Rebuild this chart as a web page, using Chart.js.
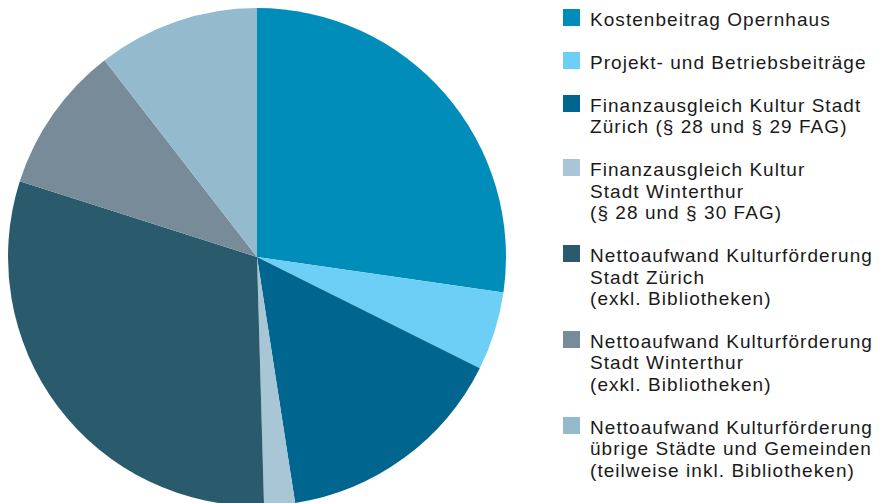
<!DOCTYPE html>
<html>
<head>
<meta charset="utf-8">
<script src="https://cdn.jsdelivr.net/npm/chart.js@4"></script>
<style>
  html, body { margin: 0; padding: 0; background: #fff; overflow: hidden; }
  body { width: 883px; height: 503px; position: relative; font-family: "Liberation Sans", Arial, sans-serif; }
  #pieWrap { position: absolute; left: 0; top: 0; width: 514px; height: 514px; }
  #legend { position: absolute; left: 563px; top: 9px; margin: 0; padding: 0; list-style: none; }
  #legend li { position: relative; padding-left: 27px; margin-bottom: 21.6px; font-size: 19px; line-height: 21.4px; letter-spacing: 1.05px; color: #1a1a1a; white-space: nowrap; }
  #legend li span.box { position: absolute; left: 0; top: 0; width: 17px; height: 17px; }
  #legend li div { position: relative; top: 0; }
</style>
</head>
<body>
<div id="pieWrap"><canvas id="pieChart"></canvas></div>
<ul id="legend"></ul>
<script>
const categories = [
    ['Kostenbeitrag Opernhaus'],
    ['Projekt- und Betriebsbeiträge'],
    ['Finanzausgleich Kultur Stadt', 'Zürich (§ 28 und § 29 FAG)'],
    ['Finanzausgleich Kultur', 'Stadt Winterthur', '(§ 28 und § 30 FAG)'],
    ['Nettoaufwand Kulturförderung', 'Stadt Zürich', '(exkl. Bibliotheken)'],
    ['Nettoaufwand Kulturförderung', 'Stadt Winterthur', '(exkl. Bibliotheken)'],
    ['Nettoaufwand Kulturförderung', 'übrige Städte und Gemeinden', '(teilweise inkl. Bibliotheken)']
];
const shares = [27.3, 5.1, 15.2, 2.0, 30.4, 9.6, 10.5];
const sliceColors = ['#008db9', '#6dcff6', '#00668f', '#a9c6d6', '#2a5b6d', '#778c98', '#93bacd'];

document.addEventListener('DOMContentLoaded', () => {
    const ctx = document.getElementById('pieChart').getContext('2d');

    new Chart(ctx, {
        type: 'pie',
        data: {
            labels: categories.map(c => c.join(' ')),
            datasets: [{
                data: shares,
                backgroundColor: sliceColors,
                borderWidth: 0
            }]
        },
        options: {
            responsive: true,
            maintainAspectRatio: false,
            animation: false,
            layout: { padding: 8 },
            plugins: {
                legend: { display: false },
                tooltip: { enabled: false }
            }
        }
    });

    // Legende als HTML, damit die mehrzeiligen Texte sauber umbrechen
    const legend = document.getElementById('legend');
    categories.forEach((lines, i) => {
        const li = document.createElement('li');
        const box = document.createElement('span');
        box.className = 'box';
        box.style.background = sliceColors[i];
        li.appendChild(box);
        const txt = document.createElement('div');
        txt.innerHTML = lines.join('<br>');
        li.appendChild(txt);
        legend.appendChild(li);
    });
});
</script>
</body>
</html>
